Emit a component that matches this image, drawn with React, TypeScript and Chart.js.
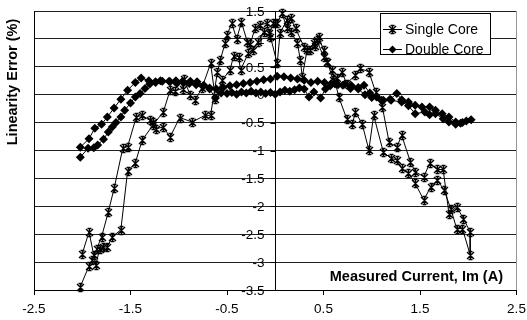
import React, { useEffect, useRef } from 'react';
import { Chart, registerables } from 'chart.js';
Chart.register(...registerables);

const X_TICKS = [-2.5, -1.5, -0.5, 0.5, 1.5, 2.5];
const Y_TICKS = [1.5, 1, 0.5, 0, -0.5, -1, -1.5, -2, -2.5, -3, -3.5];
const SERIES_NAMES = ['Single Core', 'Double Core'];
const X_TITLE = 'Measured Current, Im (A)';
const Y_TITLE = 'Linearity Error (%)';

const SINGLE_X = [
  -2.0, -1.93, -1.88, -1.86, -1.82, -1.78, -1.74, -1.69, -1.6, -1.53, -1.45, -1.38, -1.27, -1.16, -1.09, -1.04,
  -0.96, -0.95, -0.88, -0.83, -0.76, -0.67, -0.62, -0.55, -0.47, -0.43, -0.38, -0.36, -0.28, -0.23, -0.18, -0.12,
  -0.05, 0.02, 0.05, 0.12, 0.16, 0.23, 0.26, 0.28, 0.33, 0.4, 0.43, 0.5, 0.54, 0.6, 0.64, 0.69, 0.74, 0.83, 0.88,
  0.97, 1.04, 1.11, 1.18, 1.26, 1.31, 1.4, 1.45, 1.54, 1.6, 1.68, 1.74, 1.8, 1.88, 1.95, 2.02,
  2.02, 1.94, 1.88, 1.82, 1.75, 1.68, 1.61, 1.54, 1.45, 1.38, 1.31, 1.26, 1.2, 1.12, 1.02, 0.97, 0.9, 0.83, 0.8,
  0.74, 0.66, 0.59, 0.54, 0.5, 0.45, 0.41, 0.36, 0.3, 0.21, 0.16, 0.12, 0.07, 0.02, -0.02, -0.06, -0.09, -0.16,
  -0.21, -0.26, -0.29, -0.35, -0.4, -0.45, -0.5, -0.52, -0.57, -0.6, -0.67, -0.73, -0.86, -0.99, -1.09, -1.16,
  -1.24, -1.27, -1.3, -1.38, -1.44, -1.53, -1.58, -1.67, -1.73, -1.8, -1.85, -1.9, -1.93, -2.02,
];
const SINGLE_Y = [
  -2.85, -2.46, -2.88, -3.06, -2.76, -2.73, -2.73, -2.55, -2.42, -1.37, -1.22, -0.82, -0.55, -0.31, 0.08, 0.07,
  0.11, 0.29, -0.01, -0.1, 0.12, 0.56, -0.07, 0.26, 0.44, 0.7, 0.68, 0.44, 0.74, 0.8, 0.95, 1.13,
  1.04, 0.56, 1.1, 1.34, 1.13, 0.92, 0.62, 0.32, 0.8, 0.92, 0.98, 0.68, 0.59, 0.26, 0.3, 0.41, 0.2, 0.35, 0.47,
  0.41, 0.05, -0.22, -0.85, -0.94, -0.73, -1.2, -1.38, -1.47, -1.23, -1.34, -1.34, -2.13, -2.01, -2.22, -2.46,
  -2.87, -2.4, -2.4, -2.05, -1.71, -1.53, -1.65, -1.89, -1.59, -1.41, -1.32, -1.17, -1.14, -1.03, -0.37, -0.99, -0.52, -0.31, -0.52,
  -0.43, -0.05, 0.44, 0.59, 0.8, 1.04, 0.88, 0.8, 0.85, 1.19, 1.37, 1.2, 1.46, 1.28, 1.28, 1.1, 1.28, 1.25,
  1.19, 0.9, 0.95, 1.3, 1.0, 1.28, 1.07, 0.92, 0.62, 0.4, -0.37, -0.37, -0.49, -0.41, -0.76, -0.58,
  -0.61, -0.49, -0.46, -0.37, -0.4, -0.93, -0.96, -1.68, -2.1, -2.55, -2.76, -2.97, -3.07, -3.44,
];

const DOUBLE_X = [
  -2.02, -1.93, -1.87, -1.8, -1.74, -1.67, -1.6, -1.53, -1.45, -1.39, -1.31, -1.24, -1.17, -1.09, -1.02, -0.95,
  -0.88, -0.81, -0.74, -0.68, -0.62, -0.56, -0.5, -0.45, -0.4, -0.35, -0.3, -0.25, -0.2, -0.15, -0.1, -0.05,
  0.0, 0.05, 0.1, 0.15, 0.2, 0.25, 0.3, 0.35, 0.4, 0.47, 0.52, 0.57, 0.62, 0.7, 0.78, 0.86, 0.92, 0.98, 1.05,
  1.12, 1.19, 1.26, 1.31, 1.38, 1.45, 1.52, 1.6, 1.66, 1.73, 1.8, 1.87, 1.94, 2.03,
  1.98, 1.92, 1.87, 1.8, 1.74, 1.66, 1.6, 1.55, 1.45, 1.38, 1.31, 1.2, 1.1, 1.0, 0.93, 0.86, 0.79, 0.72, 0.65,
  0.58, 0.51, 0.44, 0.37, 0.3, 0.23, 0.16, 0.09, 0.02, -0.05, -0.12, -0.19, -0.26, -0.33, -0.4, -0.47, -0.54,
  -0.61, -0.68, -0.75, -0.82, -0.89, -0.96, -1.03, -1.1, -1.19, -1.24, -1.3, -1.35, -1.4, -1.45, -1.5, -1.56,
  -1.6, -1.65, -1.69, -1.73, -1.78, -1.84, -1.88, -1.94, -2.02,
];
const DOUBLE_Y = [
  -0.94, -0.79, -0.6, -0.53, -0.4, -0.24, -0.08, 0.08, 0.22, 0.3, 0.25, 0.22, 0.24, 0.23, 0.2, 0.22,
  0.24, 0.23, 0.17, 0.1, -0.06, 0.03, 0.02, 0.04, 0.01, 0.05, 0.03, 0.06, 0.03, 0.05, 0.02, 0.04,
  0.01, 0.05, 0.08, 0.06, 0.09, 0.12, 0.1, -0.04, 0.05, -0.06, 0.1, 0.16, 0.19, 0.17, 0.11, 0.13, 0.17, 0.03, -0.04,
  -0.1, -0.08, 0.02, -0.09, -0.13, -0.19, -0.22, -0.22, -0.28, -0.34, -0.4, -0.49, -0.5, -0.45,
  -0.47, -0.51, -0.53, -0.49, -0.43, -0.34, -0.36, -0.31, -0.34, -0.2, -0.13, -0.1, -0.1, -0.05, 0.0, 0.1, 0.16, 0.19, 0.18,
  0.2, 0.22, 0.24, 0.22, 0.26, 0.28, 0.3, 0.32, 0.33, 0.28, 0.27, 0.24, 0.22, 0.2, 0.18, 0.16, 0.13,
  0.1, 0.12, 0.15, 0.18, 0.2, 0.24, 0.25, 0.24, 0.25, 0.23, 0.19, 0.11, 0.02, -0.04, -0.15, -0.28,
  -0.4, -0.5, -0.58, -0.67, -0.8, -0.9, -0.95, -0.96, -1.12,
];

const FONT = "'Liberation Sans', Arial, sans-serif";

function drawStar(ctx: CanvasRenderingContext2D, x: number, y: number) {
  const cx = Math.round(x) + 0.5;
  const cy = Math.round(y) + 0.5;
  ctx.beginPath();
  ctx.moveTo(cx - 3.5, cy - 3.5);
  ctx.lineTo(cx + 3.5, cy + 3.5);
  ctx.moveTo(cx + 3.5, cy - 3.5);
  ctx.lineTo(cx - 3.5, cy + 3.5);
  ctx.moveTo(cx, cy - 4);
  ctx.lineTo(cx, cy + 4);
  ctx.moveTo(cx - 2, cy - 4);
  ctx.lineTo(cx + 2, cy - 4);
  ctx.moveTo(cx - 2, cy + 4);
  ctx.lineTo(cx + 2, cy + 4);
  ctx.stroke();
}

function drawDiamond(ctx: CanvasRenderingContext2D, x: number, y: number, r: number) {
  ctx.beginPath();
  ctx.moveTo(x, y - r);
  ctx.lineTo(x + r, y);
  ctx.lineTo(x, y + r);
  ctx.lineTo(x - r, y);
  ctx.closePath();
  ctx.fill();
}

export default function App() {
  const ref = useRef<HTMLCanvasElement | null>(null);
  useEffect(() => {
    if (!ref.current) return;
    const single = SINGLE_X.map((x, i) => ({ x, y: SINGLE_Y[i] }));
    const double = DOUBLE_X.map((x, i) => ({ x, y: DOUBLE_Y[i] }));

    const deco = {
      id: 'deco',
      beforeDatasetsDraw(chart: any) {
        const { ctx, chartArea: a, scales } = chart;
        ctx.save();
        ctx.lineWidth = 1;
        ctx.strokeStyle = '#000';
        ctx.beginPath();
        ctx.moveTo(Math.round(a.left) + 0.5, a.top);
        ctx.lineTo(Math.round(a.left) + 0.5, a.bottom);
        ctx.stroke();
        ctx.strokeStyle = '#999';
        ctx.beginPath();
        ctx.moveTo(Math.round(a.right) - 0.5, a.top);
        ctx.lineTo(Math.round(a.right) - 0.5, a.bottom);
        ctx.stroke();
        // value axis crossing at x = 0
        const ax = Math.round(scales.x.getPixelForValue(0)) + 0.5;
        ctx.strokeStyle = '#000';
        ctx.beginPath();
        ctx.moveTo(ax, a.top);
        ctx.lineTo(ax, a.bottom);
        Y_TICKS.forEach((v) => {
          const py = Math.round(scales.y.getPixelForValue(v)) + 0.5;
          ctx.moveTo(ax - 5, py);
          ctx.lineTo(ax, py);
        });
        ctx.stroke();
        ctx.fillStyle = '#000';
        ctx.font = `13.5px ${FONT}`;
        ctx.textBaseline = 'middle';
        ctx.textAlign = 'right';
        Y_TICKS.forEach((v) => {
          ctx.fillText(String(v), ax - 11, scales.y.getPixelForValue(v) + 1);
        });
        ctx.textAlign = 'center';
        X_TICKS.forEach((v) => {
          ctx.fillText(String(v), scales.x.getPixelForValue(v), a.bottom + 19);
        });
        ctx.font = `bold 14.5px ${FONT}`;
        ctx.textAlign = 'right';
        ctx.fillText(X_TITLE, 503, 277);
        ctx.translate(13, 82);
        ctx.rotate(-Math.PI / 2);
        ctx.textAlign = 'center';
        ctx.fillText(Y_TITLE, 0, 0);
        ctx.restore();
      },
      afterDatasetsDraw(chart: any) {
        const { ctx } = chart;
        ctx.save();
        ctx.strokeStyle = '#000';
        ctx.lineWidth = 1.4;
        chart.getDatasetMeta(0).data.forEach((el: any) => drawStar(ctx, el.x, el.y));
        const bx = 380.5, by = 13.5, bw = 110, bh = 41;
        ctx.lineWidth = 1;
        ctx.fillStyle = '#fff';
        ctx.fillRect(bx, by, bw, bh);
        ctx.strokeRect(bx, by, bw, bh);
        const rows = [29, 49];
        ctx.font = `14px ${FONT}`;
        ctx.textAlign = 'left';
        ctx.textBaseline = 'middle';
        rows.forEach((ry, i) => {
          ctx.lineWidth = 1;
          ctx.beginPath();
          ctx.moveTo(383, ry + 0.5);
          ctx.lineTo(402, ry + 0.5);
          ctx.stroke();
          ctx.fillStyle = '#000';
          ctx.lineWidth = 1.4;
          if (i === 0) drawStar(ctx, 392, ry);
          else drawDiamond(ctx, 392.5, ry + 0.5, 4);
          ctx.fillText(SERIES_NAMES[i], 405, ry + 1);
        });
        ctx.restore();
      },
    };

    const chart = new Chart(ref.current, {
      type: 'scatter',
      data: {
        datasets: [
          {
            label: SERIES_NAMES[0],
            data: single,
            showLine: true,
            borderColor: '#000',
            borderWidth: 1,
            backgroundColor: '#000',
            pointRadius: 0,
          },
          {
            label: SERIES_NAMES[1],
            data: double,
            showLine: true,
            borderColor: '#000',
            borderWidth: 1,
            backgroundColor: '#000',
            pointBorderColor: '#000',
            pointStyle: 'rectRot',
            pointRadius: 4.5,
            pointBorderWidth: 0,
          },
        ],
      },
      options: {
        animation: false,
        responsive: false,
        maintainAspectRatio: false,
        layout: { padding: { left: 34, right: 10.5, top: 11, bottom: 25 } },
        plugins: { legend: { display: false }, tooltip: { enabled: false } },
        scales: {
          x: {
            type: 'linear',
            position: 'bottom',
            min: -2.5,
            max: 2.5,
            afterBuildTicks: (s: any) => {
              s.ticks = X_TICKS.map((v) => ({ value: v }));
            },
            grid: { drawOnChartArea: false, drawTicks: true, tickLength: 5, color: '#000' },
            border: { color: '#000', width: 1 },
            ticks: { display: false },
          },
          y: {
            type: 'linear',
            position: 'left',
            min: -3.5,
            max: 1.5,
            afterBuildTicks: (s: any) => {
              s.ticks = Y_TICKS.map((v) => ({ value: v }));
            },
            grid: { color: '#222', lineWidth: 1, drawTicks: false, tickLength: 0 },
            border: { display: false },
            ticks: { display: false },
          },
        },
      },
      plugins: [deco],
    });
    return () => chart.destroy();
  }, []);

  return (
    <div style={{ position: 'fixed', left: 0, top: 0, width: 527, height: 320, background: '#fff' }}>
      <canvas ref={ref} width={527} height={320} style={{ width: 527, height: 320 }} />
    </div>
  );
}
